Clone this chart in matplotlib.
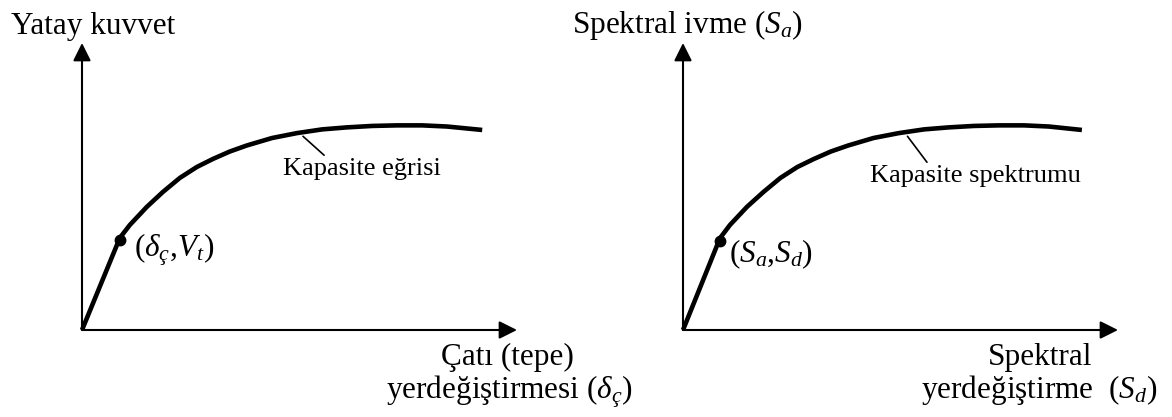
import matplotlib
matplotlib.use("Agg")
import matplotlib.pyplot as plt

plt.rcParams['font.family'] = ['Liberation Serif', 'DejaVu Serif']
plt.rcParams['mathtext.fontset'] = 'custom'
plt.rcParams['mathtext.rm'] = 'Liberation Serif'
plt.rcParams['mathtext.it'] = 'Liberation Serif:italic'

# capacity curve (left): roof displacement vs. base shear, arbitrary units 0-10
disp = [0.00, 0.87, 1.10, 1.49, 1.86, 2.25, 2.64, 3.01, 3.40, 3.79,
        4.37, 4.94, 5.52, 6.09, 6.67, 7.24, 7.82, 8.39, 9.20]
shear = [0.00, 3.21, 3.66, 4.29, 4.81, 5.30, 5.68, 5.96, 6.22, 6.43,
         6.69, 6.86, 6.99, 7.06, 7.11, 7.13, 7.13, 7.09, 6.97]
yield_cap = (0.88, 3.13)
leader_cap = (5.08, 6.75)

# capacity spectrum (right): Sd vs. Sa
sd = [0.00, 0.85, 1.08, 1.47, 1.85, 2.24, 2.63, 3.01, 3.40, 3.80,
      4.38, 4.96, 5.54, 6.11, 6.69, 7.26, 7.84, 8.41, 9.17]
sa = [0.00, 3.20, 3.66, 4.29, 4.81, 5.30, 5.68, 5.96, 6.22, 6.43,
      6.69, 6.86, 6.99, 7.06, 7.11, 7.13, 7.13, 7.09, 6.97]
yield_spec = (0.85, 3.10)
leader_spec = (5.16, 6.75)

W, H = 1172, 417
FS = 22.5


def fx(px):
    return px / W


def fy(py):
    return 1 - py / H


def draw_panel(fig, x0, xs, ys, pt, leader, label, label_xy, pt_label, pt_xy):
    ax = fig.add_axes([fx(x0), fy(330), fx(435), 287 / H])
    ax.set_xlim(0, 10)
    ax.set_ylim(0, 10)
    ax.axis('off')
    arrow = dict(arrowstyle='-|>,head_length=0.4,head_width=0.2', mutation_scale=27,
                 lw=1.5, color='black', shrinkA=0, shrinkB=0)
    ax.annotate('', xy=(10, 0), xytext=(0, 0), arrowprops=arrow, annotation_clip=False)
    ax.annotate('', xy=(0, 10), xytext=(0, 0), arrowprops=arrow, annotation_clip=False)
    ax.plot(xs, ys, color='black', lw=3.3, solid_capstyle='butt',
            solid_joinstyle='round', clip_on=False)
    ax.plot(*pt, 'o', color='black', ms=7.5, clip_on=False)
    ax.annotate(label, xy=leader, xycoords='data',
                xytext=(fx(label_xy[0]), fy(label_xy[1])), textcoords='figure fraction',
                fontsize=19, va='baseline', ha='left',
                arrowprops=dict(arrowstyle='-', lw=1.2, color='black',
                                shrinkA=0, shrinkB=0, relpos=(0.28, 1.0)))
    fig.text(fx(pt_xy[0]), fy(pt_xy[1]), pt_label, fontsize=FS, va='baseline', ha='left')
    return ax


fig = plt.figure(figsize=(W / 100, H / 100), dpi=100)

draw_panel(fig, 82, disp, shear, yield_cap, leader_cap, 'Kapasite eğrisi', (283, 175),
           r'$(\delta_{ç}{,}V_t)$', (134, 257))
draw_panel(fig, 683, sd, sa, yield_spec, leader_spec, 'Kapasite spektrumu', (870, 182),
           r'$(S_a{,}S_d)$', (729, 262))

fig.text(fx(11), fy(34), 'Yatay kuvvet', fontsize=FS, va='baseline', ha='left')
fig.text(fx(572), fy(33), r'Spektral ivme ($S_a$)', fontsize=FS, va='baseline', ha='left')

fig.text(fx(507), fy(365), 'Çatı (tepe)', fontsize=FS, va='baseline', ha='center')
fig.text(fx(509), fy(398), r'yerdeğiştirmesi ($\delta_{ç}$)', fontsize=FS, va='baseline', ha='center')
fig.text(fx(1040), fy(365), 'Spektral', fontsize=FS, va='baseline', ha='center')
fig.text(fx(1039), fy(398), r'yerdeğiştirme  ($S_d$)', fontsize=FS, va='baseline', ha='center')

fig.savefig('out.png', dpi=100, facecolor='white')
